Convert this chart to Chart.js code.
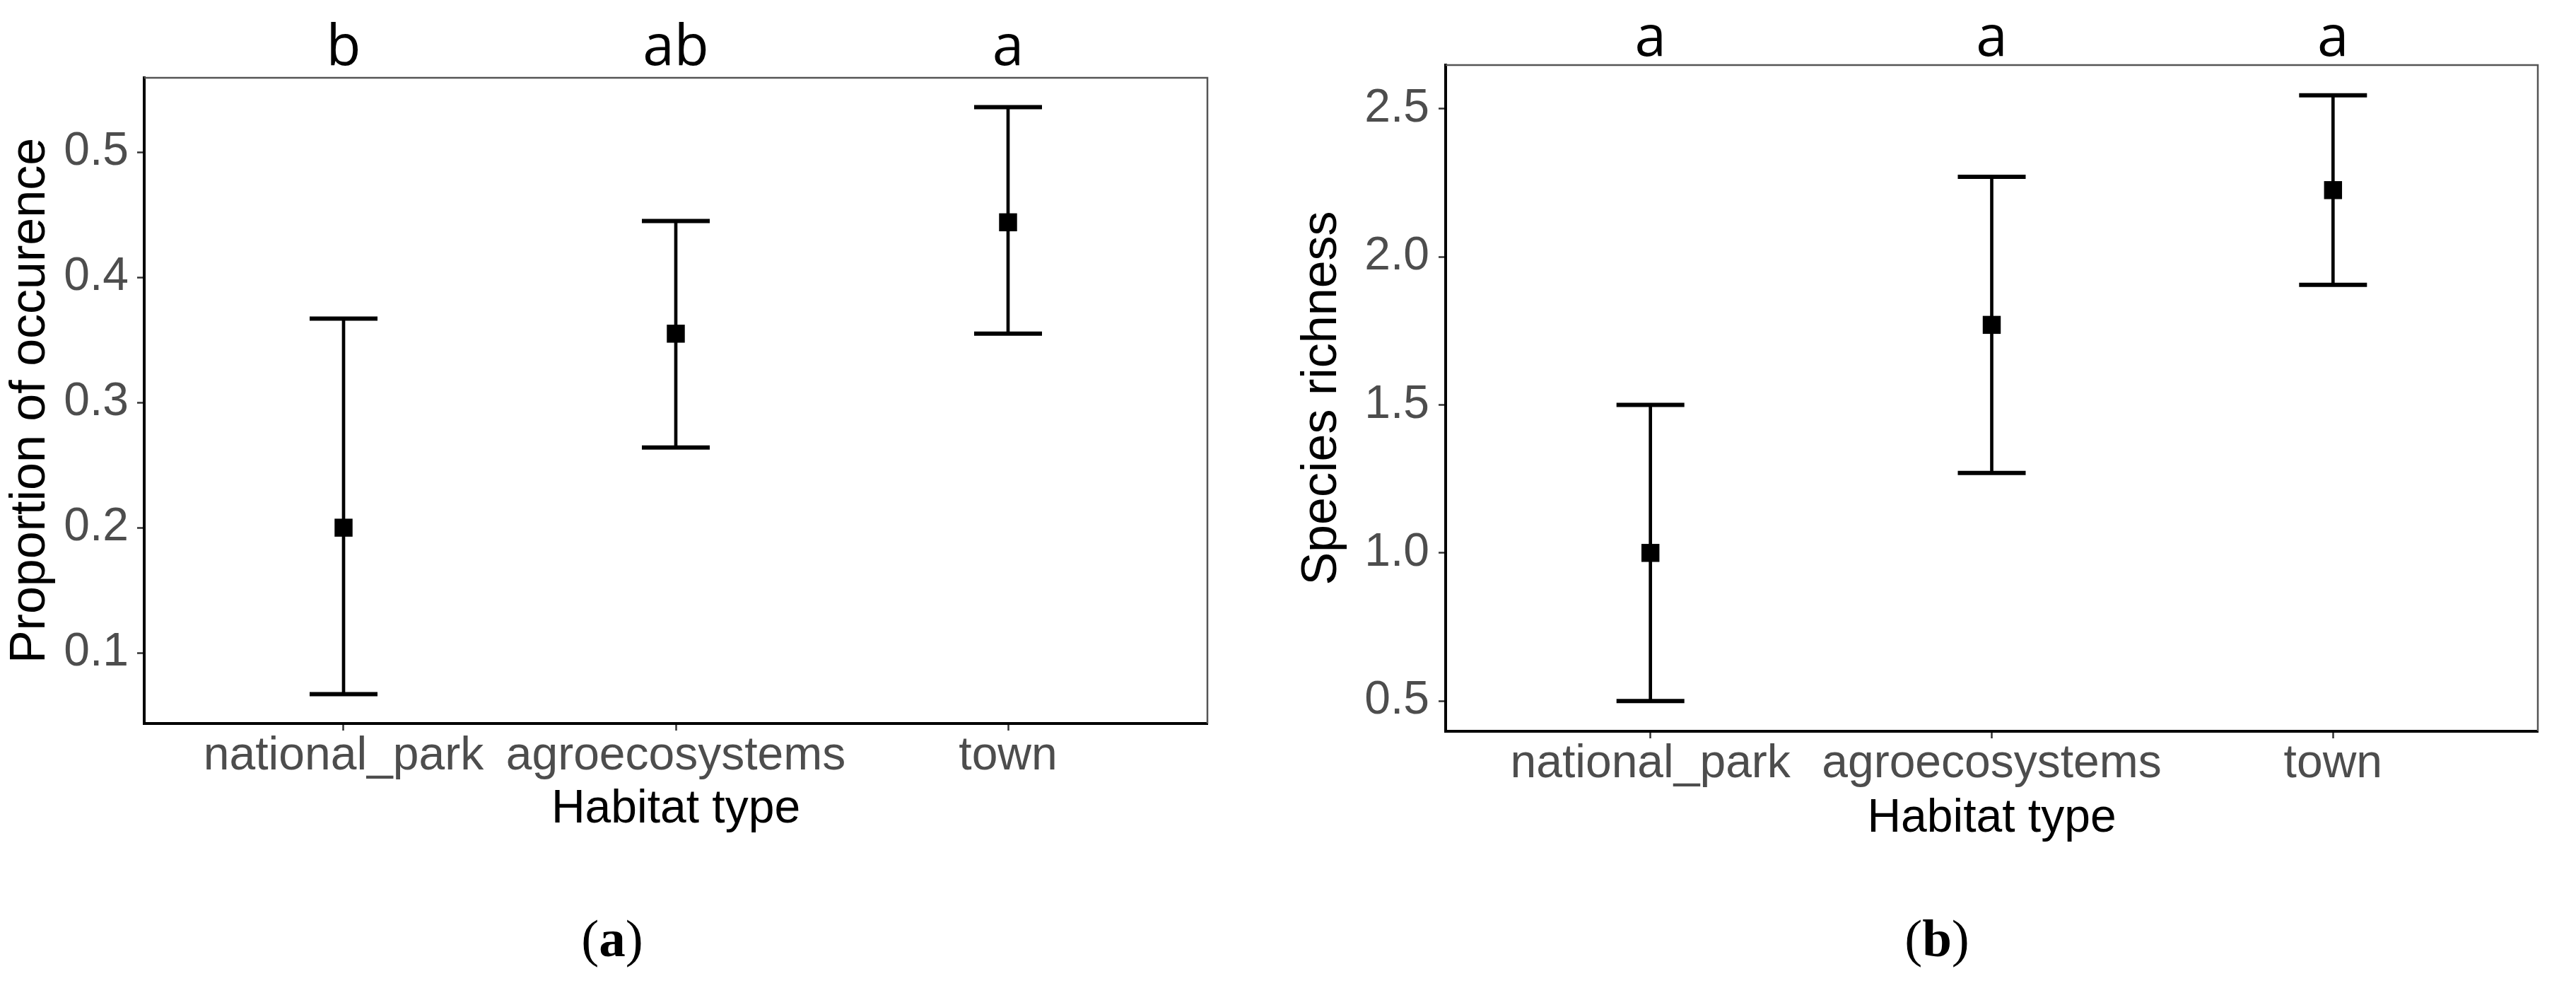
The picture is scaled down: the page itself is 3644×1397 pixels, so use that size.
<!DOCTYPE html>
<html>
<head>
<meta charset="utf-8">
<script src="https://cdn.jsdelivr.net/npm/chart.js@4.4.1/dist/chart.umd.min.js"></script>
<style>
html, body { margin: 0; padding: 0; background: #fff; }
#wrap { position: relative; width: 3644px; height: 1397px; }
canvas { position: absolute; top: 0; }
#occ { left: 0; }
#rich { left: 1800px; }
</style>
</head>
<body>
<div id="wrap">
  <canvas id="occ" width="1800" height="1397"></canvas>
  <canvas id="rich" width="1844" height="1397"></canvas>
</div>
<script>
var habitats = ['national_park', 'agroecosystems', 'town'];

// (a) proportion of occurence
var occMean = [0.200, 0.355, 0.444];
var occLow = [0.067, 0.264, 0.355];
var occHigh = [0.367, 0.445, 0.536];
var occLetters = ['b', 'ab', 'a'];
var occTicks = [0.1, 0.2, 0.3, 0.4, 0.5];

// (b) species richness
var richMean = [1.00, 1.77, 2.225];
var richLow = [0.50, 1.27, 1.905];
var richHigh = [1.50, 2.27, 2.545];
var richLetters = ['a', 'a', 'a'];
var richTicks = [0.5, 1.0, 1.5, 2.0, 2.5];

var tickFont = { family: '"Liberation Sans", Arial, sans-serif', size: 66, lineHeight: 1.1 };
var titleFont = { family: '"Liberation Sans", Arial, sans-serif', size: 66, lineHeight: 1.2 };

function pts(vals) {
    return vals.map(function (v, i) { return { x: i + 1, y: v }; });
}

// ggplot style 5% expansion
function expand(lo, hi) {
    var mn = Math.min.apply(null, lo), mx = Math.max.apply(null, hi);
    var d = (mx - mn) * 0.05;
    return [mn - d, mx + d];
}

var panelExtras = {
    id: 'panelExtras',
    beforeDatasetsDraw: function (chart) {
        var a = chart.chartArea, c = chart.ctx;
        c.save();
        c.strokeStyle = '#555';
        c.lineWidth = 2.5;
        c.beginPath();
        c.moveTo(a.left, a.top);
        c.lineTo(a.right, a.top);
        c.lineTo(a.right, a.bottom);
        c.stroke();
        c.restore();
    },
    afterDraw: function (chart, args, opts) {
        var c = chart.ctx, xs = chart.scales.x;
        c.save();
        // significance letters
        c.fillStyle = '#000';
        c.textAlign = 'center';
        c.textBaseline = 'alphabetic';
        c.font = '80px "Open Sans", sans-serif';
        opts.letters.forEach(function (t, i) {
            c.fillText(t, xs.getPixelForValue(i + 1), chart.chartArea.top - opts.letterGap);
        });
        // panel caption "(a)" / "(b)"
        var reg = '75px "Liberation Serif", serif', bold = 'bold 75px "Liberation Serif", serif';
        c.font = reg;
        var wP = c.measureText('(').width;
        c.font = bold;
        var wL = c.measureText(opts.caption).width;
        var x0 = opts.captionX - (2 * wP + wL) / 2;
        c.textAlign = 'left';
        c.font = reg;
        c.fillText('(', x0, 1352);
        c.fillText(')', x0 + wP + wL, 1352);
        c.font = bold;
        c.fillText(opts.caption, x0 + wP, 1352);
        c.restore();
    }
};

function makePanel(id, p) {
    var range = expand(p.low, p.high);
    return new Chart(document.getElementById(id), {
        type: 'bar',
        data: {
            datasets: [
                {
                    type: 'line',
                    data: pts(p.mean),
                    showLine: false,
                    pointStyle: 'rect',
                    pointRadius: 18,
                    pointBackgroundColor: '#000',
                    pointBorderWidth: 0,
                    order: 1
                },
                {
                    type: 'line',
                    data: pts(p.low).concat(pts(p.high)),
                    showLine: false,
                    pointStyle: 'line',
                    pointRadius: 48,
                    pointBorderColor: '#000',
                    pointBorderWidth: 6,
                    order: 2
                },
                {
                    data: p.low.map(function (v, i) { return { x: i + 1, y: [v, p.high[i]] }; }),
                    backgroundColor: '#000',
                    barThickness: 4,
                    order: 3
                }
            ]
        },
        options: {
            responsive: false,
            animation: false,
            events: [],
            layout: { padding: p.padding },
            plugins: {
                legend: { display: false },
                tooltip: { enabled: false },
                panelExtras: { letters: p.letters, letterGap: p.letterGap, caption: p.caption, captionX: p.captionX }
            },
            scales: {
                x: {
                    type: 'linear',
                    min: 0.4,
                    max: 3.6,
                    offset: false,
                    afterBuildTicks: function (s) {
                        s.ticks = habitats.map(function (h, i) { return { value: i + 1 }; });
                    },
                    afterFit: function (s) { s.height = p.xHeight; },
                    ticks: {
                        autoSkip: false,
                        maxRotation: 0,
                        minRotation: 0,
                        padding: 0,
                        color: '#4d4d4d',
                        font: tickFont,
                        callback: function (v) { return habitats[v - 1]; }
                    },
                    grid: { offset: false, drawOnChartArea: false, drawTicks: true, tickLength: 10, tickColor: '#333', tickWidth: 2.5 },
                    border: { color: '#000', width: 4 },
                    title: { display: true, text: 'Habitat type', color: '#000', font: titleFont, padding: 0 }
                },
                y: {
                    min: range[0],
                    max: range[1],
                    afterBuildTicks: function (s) {
                        s.ticks = p.ticks.map(function (v) { return { value: v }; });
                    },
                    afterFit: function (s) { s.width = p.yWidth; },
                    ticks: {
                        padding: p.yPad,
                        color: '#4d4d4d',
                        font: tickFont,
                        callback: function (v) { return Number(v).toFixed(1); }
                    },
                    grid: { drawOnChartArea: false, drawTicks: true, tickLength: 10, tickColor: '#333', tickWidth: 2.5 },
                    border: { color: '#000', width: 4 },
                    title: {
                        display: true,
                        text: p.yTitle,
                        color: '#000',
                        font: { family: '"Liberation Sans", Arial, sans-serif', size: 70, lineHeight: 1.2 },
                        padding: { top: p.titlePad, bottom: 0 }
                    }
                }
            }
        },
        plugins: [panelExtras]
    });
}

//Chart (a)
var occChart = makePanel('occ', {
    mean: occMean, low: occLow, high: occHigh, ticks: occTicks,
    letters: occLetters, letterGap: 18, caption: 'a', captionX: 866,
    yTitle: 'Proportion of occurence',
    padding: { left: 0, top: 110, right: 92, bottom: 213 },
    xHeight: 161, yWidth: 204, yPad: 12, titlePad: 2
});

//Chart (b)
var richChart = makePanel('rich', {
    mean: richMean, low: richLow, high: richHigh, ticks: richTicks,
    letters: richLetters, letterGap: 13, caption: 'b', captionX: 940,
    yTitle: 'Species richness',
    padding: { left: 0, top: 92, right: 48, bottom: 200 },
    xHeight: 163, yWidth: 245, yPad: 13, titlePad: 29
});
</script>
</body>
</html>
